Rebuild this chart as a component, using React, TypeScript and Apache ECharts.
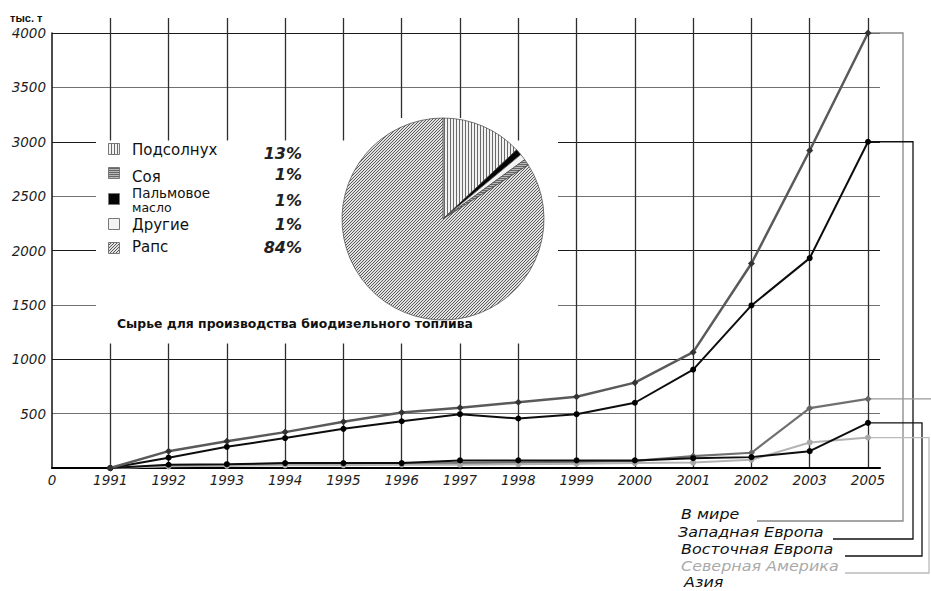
import React, { useEffect, useRef } from "react";
import * as echarts from "echarts";

// ---- data ----
const categories = ["0", "1991", "1992", "1993", "1994", "1995", "1996", "1997", "1998", "1999", "2000", "2001", "2002", "2003", "2005"];
const world = [null, 0, 155, 245, 330, 425, 510, 555, 605, 655, 785, 1065, 1880, 2920, 4000];
const westEurope = [null, 0, 95, 195, 275, 360, 430, 495, 455, 495, 600, 905, 1495, 1930, 3000];
const eastEurope = [null, 0, 30, 35, 45, 45, 45, 70, 70, 70, 70, 90, 100, 155, 415];
const northAmerica = [null, 0, 15, 20, 25, 25, 30, 30, 35, 40, 45, 50, 75, 235, 280];
const asia = [null, 0, 20, 25, 35, 40, 40, 45, 50, 55, 65, 110, 140, 550, 635];
const seriesNames = ["В мире", "Западная Европа", "Восточная Европа", "Северная Америка", "Азия"];
const yMax = 4000;
const yStep = 500;
const unitLabel = "тыс. т";

const feedstockNames = ["Подсолнух", "Соя", "Пальмовое масло", "Другие", "Рапс"];
const feedstockShares = [13, 1, 1, 1, 84];
const pieOrder = [0, 2, 3, 1, 4]; // clockwise from 12 o'clock
const pieCaption = "Сырье для производства биодизельного топлива";

// ---- patterns ----
function makeCanvas(w: number, h: number, draw: (ctx: CanvasRenderingContext2D) => void) {
  const c = document.createElement("canvas");
  c.width = w;
  c.height = h;
  const ctx = c.getContext("2d")!;
  draw(ctx);
  return c;
}
function patterns() {
  const vertical = makeCanvas(3, 3, (ctx) => {
    ctx.fillStyle = "#f2f2f2";
    ctx.fillRect(0, 0, 3, 3);
    ctx.fillStyle = "#6a6a6a";
    ctx.fillRect(0, 0, 1, 3);
  });
  const horizontal = makeCanvas(2, 2, (ctx) => {
    ctx.fillStyle = "#b8b8b8";
    ctx.fillRect(0, 0, 2, 2);
    ctx.fillStyle = "#666";
    ctx.fillRect(0, 0, 2, 1);
  });
  const diag = makeCanvas(3, 3, (ctx) => {
    ctx.fillStyle = "#e2e2e2";
    ctx.fillRect(0, 0, 3, 3);
    ctx.fillStyle = "#5a5a5a";
    for (let x = 0; x < 3; x++) for (let y = 0; y < 3; y++) if ((x + y) % 3 === 2) ctx.fillRect(x, y, 1, 1);
  });
  const pat = (c: HTMLCanvasElement) => ({ image: c, repeat: "repeat", imageWidth: c.width, imageHeight: c.height });
  return [pat(vertical), pat(horizontal), "#050505", "#f4f4f4", pat(diag)];
}

export default function App() {
  const ref = useRef<HTMLDivElement>(null);
  useEffect(() => {
    const chart = echarts.init(ref.current!, null, { renderer: "svg" });
    const fills: any[] = patterns();
    const axisFont = { fontFamily: "DejaVu Sans", fontStyle: "italic", fontSize: 13.5, color: "#1e1e1e" };
    const lineDefs = [
      { data: world, color: "#5a5a5a", sym: "diamond", symColor: "#333", w: 2.5 },
      { data: westEurope, color: "#0d0d0d", sym: "circle", symColor: "#000", w: 2 },
      { data: eastEurope, color: "#0d0d0d", sym: "circle", symColor: "#000", w: 2 },
      { data: northAmerica, color: "#b3b3b3", sym: "circle", symColor: "#a8a8a8", w: 2 },
      { data: asia, color: "#707070", sym: "diamond", symColor: "#666", w: 2.2 },
    ];
    const option: any = {
      animation: false,
      backgroundColor: "#fff",
      grid: [
        { left: 52, top: 33, width: 816, height: 435 },
        { left: 52, top: 18, width: 816, height: 450 },
        { left: 52, top: 33, width: 828, height: 435 },
      ],
      xAxis: [
        {
          gridIndex: 0, type: "category", data: categories, boundaryGap: false,
          axisLine: { show: false }, axisTick: { show: false }, splitLine: { show: false },
          axisLabel: { ...axisFont, interval: 0, margin: 5 },
        },
        {
          gridIndex: 1, type: "category", data: categories, boundaryGap: false,
          axisLine: { show: false }, axisTick: { show: false }, axisLabel: { show: false },
          splitLine: { show: true, interval: (i: number) => i > 0, lineStyle: { color: "#2e2e2e", width: 1.3 } },
        },
        {
          gridIndex: 2, type: "value", min: 0, max: 1,
          axisLine: { show: true, lineStyle: { color: "#000", width: 2.2 } },
          axisTick: { show: false }, axisLabel: { show: false }, splitLine: { show: false },
        },
      ],
      yAxis: [
        {
          gridIndex: 0, type: "value", min: 0, max: yMax, interval: yStep,
          axisLine: { show: true, lineStyle: { color: "#111", width: 1.5 } },
          axisTick: { show: false }, splitLine: { show: false },
          axisLabel: { ...axisFont, margin: 6, formatter: (v: number) => (v === 0 ? "" : String(v)) },
        },
        { gridIndex: 1, type: "value", min: 0, max: 1, show: false },
        {
          gridIndex: 2, type: "value", min: 0, max: yMax, interval: yStep,
          axisLine: { show: false }, axisTick: { show: false }, axisLabel: { show: false },
          splitLine: { show: true, lineStyle: { color: ["#1a1a1a", "#707070"], width: 1.1 } },
        },
      ],
      series: [
        ...lineDefs.map((d, i) => ({
          type: "line", name: seriesNames[i], xAxisIndex: 0, yAxisIndex: 0, data: d.data,
          symbol: d.sym, symbolSize: d.sym === "diamond" ? 7 : 6, showSymbol: true,
          lineStyle: { color: d.color, width: d.w }, itemStyle: { color: d.symColor },
          emphasis: { disabled: true }, z: 3 + (4 - i),
        })),
        {
          type: "pie", center: [443, 219], radius: 101, startAngle: 90, clockwise: true,
          label: { show: false }, labelLine: { show: false }, emphasis: { disabled: true }, z: 3,
          itemStyle: { borderColor: "#444", borderWidth: 0.7 },
          data: pieOrder.map((k) => ({ name: feedstockNames[k], value: feedstockShares[k], itemStyle: { color: fills[k] } })),
        },
      ],
    };
    chart.setOption(option);

    const graphic: any[] = [];
    graphic.push({ type: "rect", z: 1, shape: { x: 96, y: 140.5, width: 462, height: 203 }, style: { fill: "#fff" } });
    graphic.push({ type: "rect", z: 1, shape: { x: 357, y: 118, width: 155, height: 24 }, style: { fill: "#fff" } });
    graphic.push({
      type: "text", z: 10, x: 10, y: 18,
      style: { text: unitLabel, font: "bold 11px 'Liberation Sans'", fill: "#111", textVerticalAlign: "middle", verticalAlign: "middle" },
    });
    // pie legend
    const legendOrder = [0, 1, 2, 3, 4];
    const rowSquareY = [143, 167, 193, 218, 242];
    const rowLabelY = [150, 177, 193, 225, 247];
    const rowPctY = [153, 174, 200, 224, 247];
    legendOrder.forEach((k, r) => {
      graphic.push({ type: "rect", z: 10, shape: { x: 108.5, y: rowSquareY[r] + 0.5, width: 11, height: 11 }, style: { fill: fills[k], stroke: "#777", lineWidth: 1 } });
      const parts = feedstockNames[k].split(" ");
      parts.forEach((part, j) => {
        graphic.push({
          type: "text", z: 10, x: 132, y: rowLabelY[r] + j * 14,
          style: { text: part, font: parts.length > 1 ? (j === 0 ? "13.5px 'DejaVu Sans'" : "12.5px 'DejaVu Sans'") : "15px 'DejaVu Sans'", fill: "#111", textVerticalAlign: "middle", verticalAlign: "middle" },
        });
      });
      graphic.push({
        type: "text", z: 10, x: 302, y: rowPctY[r],
        style: { text: feedstockShares[k] + "%", font: "italic bold 16px 'DejaVu Sans'", fill: "#222", textAlign: "right", align: "right", textVerticalAlign: "middle", verticalAlign: "middle" },
      });
    });
    graphic.push({
      type: "text", z: 10, x: 117, y: 323,
      style: { text: pieCaption, font: "bold 12.4px 'DejaVu Sans'", fill: "#111", textVerticalAlign: "middle", verticalAlign: "middle" },
    });
    // line legend with connectors
    const labelY = [514, 532, 549, 566, 582];
    const labelX = [681, 678, 681, 681, 684];
    const labelColors = ["#111", "#111", "#111", "#aaa", "#111"];
    const connColors = ["#888", "#111", "#111", "#bbb", "#999"];
    const connX = [903, 913, 922, 929, 940];
    const connBottom = [521, 539, 556, 573, null];
    const connEnd = [757, 833, 845, 845, null];
    lineDefs.forEach((d, i) => {
      const last = d.data[d.data.length - 1] as number;
      const p = chart.convertToPixel({ xAxisIndex: 0, yAxisIndex: 0 }, [categories[categories.length - 1], last]) as number[];
      const pts: number[][] = [[p[0], p[1]], [connX[i], p[1]]];
      if (connBottom[i] != null) {
        pts.push([connX[i], connBottom[i] as number]);
        pts.push([connEnd[i] as number, connBottom[i] as number]);
      }
      graphic.push({ type: "polyline", z: 2, shape: { points: pts }, style: { stroke: connColors[i], lineWidth: 1.3, fill: null } });
      graphic.push({
        type: "text", z: 10, x: labelX[i], y: labelY[i], scaleX: 1.1, originX: 0, originY: 0,
        style: { text: seriesNames[i], font: "italic 14.5px 'DejaVu Sans'", fill: labelColors[i], textVerticalAlign: "middle", verticalAlign: "middle" },
      });
    });
    chart.setOption({ graphic });
    return () => chart.dispose();
  }, []);
  return <div ref={ref} style={{ position: "fixed", left: 0, top: 0, width: 931, height: 591 }} />;
}
